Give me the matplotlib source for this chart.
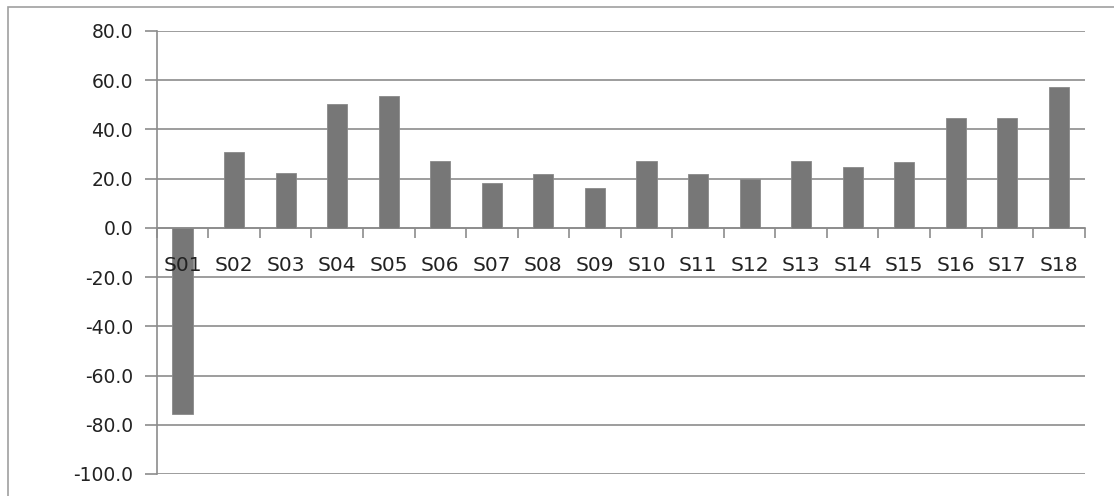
import matplotlib.pyplot as plt
import numpy as np
from matplotlib.patches import Rectangle

# Sample labels and their values
labels = ["S01", "S02", "S03", "S04", "S05", "S06", "S07", "S08", "S09",
          "S10", "S11", "S12", "S13", "S14", "S15", "S16", "S17", "S18"]
values = [-75.7, 30.7, 22.5, 50.4, 53.6, 27.3, 18.3, 21.9, 16.1,
          27.3, 21.9, 19.9, 27.3, 24.6, 26.7, 44.8, 44.8, 57.3]
y_ticks = [-100, -80, -60, -40, -20, 0, 20, 40, 60, 80]


def main():
    fig = plt.figure(figsize=(11.14, 4.96), dpi=100)
    fig.patches.append(Rectangle((0.007, -0.01), 1.0, 0.996, transform=fig.transFigure,
                                 fill=False, edgecolor="#a0a0a0", linewidth=1.2))

    ax = fig.add_axes([0.1407, 0.0444, 0.833, 0.8931])
    x = np.arange(len(labels))
    ax.bar(x, values, width=0.39, color="#777777", edgecolor="#8a8a8a",
           linewidth=0.6, zorder=3)

    ax.set_xlim(-0.5, len(labels) - 0.5)
    ax.set_ylim(-100, 80)
    ax.set_yticks(y_ticks)
    ax.set_yticklabels([f"{v:.1f}" for v in y_ticks], fontsize=13.5, color="#222222")
    ax.yaxis.grid(True, color="#8c8c8c", linewidth=1.2)
    ax.yaxis.set_zorder(1)
    ax.tick_params(axis="y", length=9, color="#8c8c8c", width=1.2, pad=8)

    # category axis runs through zero
    for side in ("top", "right"):
        ax.spines[side].set_visible(False)
    ax.spines["bottom"].set_position(("data", 0))
    ax.spines["bottom"].set_color("#8c8c8c")
    ax.spines["bottom"].set_linewidth(1.2)
    ax.spines["left"].set_color("#8c8c8c")
    ax.spines["left"].set_linewidth(1.2)

    ax.set_xticks(x)
    ax.set_xticklabels(labels, fontsize=14.5, color="#222222")
    ax.tick_params(axis="x", which="major", length=0, pad=20)
    ax.set_xticks(np.arange(len(labels) + 1) - 0.5, minor=True)
    ax.tick_params(axis="x", which="minor", length=7, color="#8c8c8c", width=1.2)
    # category labels are drawn over the bars
    ax.xaxis.set_zorder(5)

    fig.savefig("out.png", dpi=100)


if __name__ == "__main__":
    main()
